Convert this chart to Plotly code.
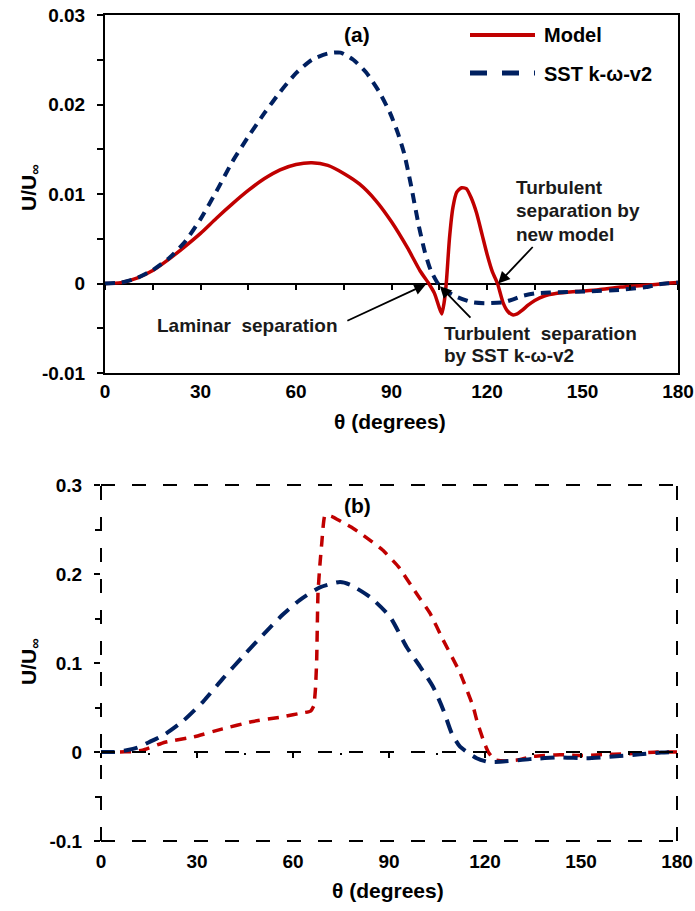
import plotly.graph_objects as go

# ---------------- data ----------------
# (a) friction-velocity ratio, Model (solid) and SST k-omega-v2 (dashed)
theta_a_model = [0, 5, 10, 15, 20, 25, 30, 35, 40, 45, 50, 55, 60, 65, 70, 75, 80, 85, 90, 95,
                 99, 101.7, 103.5, 105, 105.8, 106.5, 107.2, 108.2, 109.3, 110.5, 112, 113.5, 115,
                 116.7, 118.5, 120, 121.7, 123.3, 125, 126.5, 128, 129.5, 131, 133, 135, 138, 142,
                 148, 155, 162, 170, 176, 180]
u_a_model = [0, 0.0001, 0.0006, 0.00145, 0.0027, 0.0041, 0.0056, 0.0073, 0.0089, 0.0104, 0.0117,
             0.0127, 0.0133, 0.0135, 0.0132, 0.0123, 0.0111, 0.0093, 0.0069, 0.0040,
             0.0014, 0.0, -0.0011, -0.0027, -0.0034, -0.0022, 0.0, 0.0050, 0.0085, 0.0102, 0.0107,
             0.0106, 0.0096, 0.0079, 0.0054, 0.0033, 0.0013, 0.0, -0.0021, -0.0031, -0.0035,
             -0.0034, -0.0030, -0.0024, -0.0019, -0.0014, -0.0011, -0.0009, -0.0007, -0.0004,
             -0.0002, 0.0, 0.0001]

theta_a_sst = [0, 5, 10, 15, 20, 25, 30, 35, 40, 45, 50, 55, 60, 65, 70, 74, 78, 82, 86, 89.5,
               92, 94, 96, 98.6, 100.5, 102.3, 104.6, 107, 110.6, 115.5, 120, 125, 128, 131, 135,
               140, 151, 162, 170, 174, 180]
u_a_sst = [0, 0.0001, 0.0006, 0.0015, 0.0028, 0.0046, 0.0072, 0.0103, 0.0136, 0.0164, 0.0190,
           0.0214, 0.0235, 0.0250, 0.0257, 0.0258, 0.0250, 0.0236, 0.0215, 0.0191,
           0.0168, 0.0145, 0.0112, 0.0064, 0.0035, 0.0015, 0.0, -0.0008, -0.0015, -0.0021,
           -0.0022, -0.0021, -0.0018, -0.0014, -0.0011, -0.0010, -0.0009, -0.0007, -0.0004,
           -0.0001, 0.0001]

# (b) velocity ratio, Model and SST k-omega-v2 (both dashed)
theta_b_model = [0, 5, 10, 13, 20, 29, 38, 47, 57, 63, 65.5, 66.5, 67, 67.4, 67.8, 68.4, 69,
                 70, 72.5, 75, 78, 81, 84, 88, 93, 98.6, 102.8, 106.9, 112.2, 116.3, 117.4, 119.5,
                 121, 123.1, 126.4, 130, 135, 143.4, 150, 156, 164.4, 173.8, 180]
u_b_model = [0, 0, 0.0005, 0.002, 0.011, 0.017, 0.026, 0.034, 0.0397, 0.044, 0.046, 0.052, 0.07,
             0.103, 0.178, 0.21, 0.235, 0.266, 0.264, 0.259, 0.253, 0.246, 0.238, 0.227, 0.208,
             0.178, 0.156, 0.126, 0.089, 0.051, 0.036, 0.013, 0.0, -0.009, -0.010, -0.009,
             -0.005, -0.003, -0.004, -0.003, -0.002, 0.0, 0.0]

theta_b_sst = [0, 4, 8, 11.4, 15, 20, 25.7, 32, 38.2, 44.5, 50.7, 57, 62.2, 68.4, 74.7, 77.8,
               84.1, 90.3, 95.5, 99.7, 103.8, 107, 109.6, 112.2, 117.4, 120.8, 124.7, 134, 143.4,
               151.8, 160, 168.4, 175, 180]
u_b_sst = [0, 0, 0.002, 0.005, 0.011, 0.020, 0.035, 0.057, 0.083, 0.108, 0.132, 0.155, 0.171,
           0.185, 0.191, 0.188, 0.174, 0.152, 0.118, 0.096, 0.073, 0.047, 0.021, 0.006, -0.007,
           -0.011, -0.011, -0.008, -0.006, -0.007, -0.005, -0.0026, -0.0005, 0]

# axis ticks
x_ticks = [0, 30, 60, 90, 120, 150, 180]
x_ticktext = ["0", "30", "60", "90", "120", "150", "180"]
ya_ticks = [-0.01, 0, 0.01, 0.02, 0.03]
ya_ticktext = ["-0.01", "0", "0.01", "0.02", "0.03"]
yb_ticks = [-0.1, 0, 0.1, 0.2, 0.3]
yb_ticktext = ["-0.1", "0", "0.1", "0.2", "0.3"]

# ---------------- styling ----------------
RED = "#C00000"
NAVY = "#002060"
FONT = "Liberation Sans, Arial, sans-serif"
W, H = 695, 911

def px(x):
    return x / W

def py(y):
    return 1 - y / H

dom_xa = [px(105), px(678)]
dom_ya = [py(373), py(15)]
dom_xb = [px(101), px(677)]
dom_yb = [py(841), py(485)]

fig = go.Figure()

fig.add_trace(go.Scatter(x=theta_a_model, y=u_a_model, mode="lines", xaxis="x", yaxis="y",
                         line=dict(color=RED, width=3.5, shape="spline", smoothing=0.6),
                         showlegend=False))
fig.add_trace(go.Scatter(x=theta_a_sst, y=u_a_sst, mode="lines", xaxis="x", yaxis="y",
                         line=dict(color=NAVY, width=4, dash="10px,7px", shape="spline",
                                   smoothing=0.6),
                         showlegend=False))
fig.add_trace(go.Scatter(x=theta_b_model, y=u_b_model, mode="lines", xaxis="x2", yaxis="y2",
                         line=dict(color=RED, width=3.5, dash="11px,8px", shape="spline",
                                   smoothing=0.4),
                         showlegend=False))
fig.add_trace(go.Scatter(x=theta_b_sst, y=u_b_sst, mode="lines", xaxis="x2", yaxis="y2",
                         line=dict(color=NAVY, width=4, dash="14px,9px", shape="spline",
                                   smoothing=0.6),
                         showlegend=False))
# empty traces so the zero-line tick axes are drawn
fig.add_trace(go.Scatter(x=[], y=[], xaxis="x3", yaxis="y", showlegend=False))
fig.add_trace(go.Scatter(x=[], y=[], xaxis="x4", yaxis="y2", showlegend=False))

tickfont = dict(family=FONT, size=19, color="black", weight="bold")

fig.update_layout(
    width=W, height=H,
    margin=dict(l=0, r=0, t=0, b=0, autoexpand=False),
    paper_bgcolor="white", plot_bgcolor="white",
    showlegend=False,
    font=dict(family=FONT, color="black"),
    xaxis=dict(domain=dom_xa, anchor="y", range=[0, 180], tickvals=x_ticks, ticktext=x_ticktext,
               showline=True, linecolor="black", linewidth=2, mirror=True, ticks="",
               showgrid=False, zeroline=False, tickfont=tickfont, ticklabelstandoff=0,
               automargin=False),
    yaxis=dict(domain=dom_ya, anchor="x", range=[-0.01, 0.03], tickvals=ya_ticks,
               ticktext=ya_ticktext, showline=True, linecolor="black", linewidth=2, mirror=True,
               ticks="outside", ticklen=6, tickwidth=2, tickcolor="black",
               minor=dict(dtick=0.005, ticks="outside", ticklen=6, tickwidth=2,
                          tickcolor="black", showgrid=False),
               showgrid=False, zeroline=True, zerolinecolor="black", zerolinewidth=2,
               tickfont=tickfont, ticklabelstandoff=8, automargin=False),
    xaxis3=dict(overlaying="x", anchor="free",
                position=dom_ya[0] + 0.25 * (dom_ya[1] - dom_ya[0]),
                range=[0, 180], dtick=15, tick0=0, ticks="outside", ticklen=5, tickwidth=2,
                tickcolor="black", showticklabels=False, showline=False, showgrid=False,
                zeroline=False, automargin=False),
    xaxis2=dict(domain=dom_xb, anchor="y2", range=[0, 180], tickvals=x_ticks,
                ticktext=x_ticktext, showline=False, ticks="", showgrid=False, zeroline=False,
                tickfont=tickfont, ticklabelstandoff=7, automargin=False),
    yaxis2=dict(domain=dom_yb, anchor="x2", range=[-0.1, 0.3], tickvals=yb_ticks,
                ticktext=yb_ticktext, showline=False, ticks="outside", ticklen=6, tickwidth=2,
                tickcolor="black",
                minor=dict(dtick=0.05, ticks="outside", ticklen=5, tickwidth=2,
                           tickcolor="black", showgrid=False),
                showgrid=False, zeroline=False, tickfont=tickfont, ticklabelstandoff=8,
                automargin=False),
    xaxis4=dict(overlaying="x2", anchor="free",
                position=dom_yb[0] + 0.25 * (dom_yb[1] - dom_yb[0]),
                range=[0, 180], tickvals=x_ticks, ticks="outside", ticklen=5, tickwidth=2,
                tickcolor="black",
                minor=dict(dtick=15, ticks="outside", ticklen=2, tickwidth=2,
                           tickcolor="black", showgrid=False),
                showticklabels=False, showline=False, showgrid=False, zeroline=False,
                automargin=False),
)

# dashed frame and zero line of panel (b)
frame_dash = "14px,17px"
frame = dict(color="black", width=2, dash=frame_dash)
shapes = [
    dict(type="line", xref="x2 domain", yref="y2 domain", x0=0, x1=1, y0=1, y1=1, line=frame),
    dict(type="line", xref="x2 domain", yref="y2 domain", x0=0, x1=1, y0=0, y1=0, line=frame),
    dict(type="line", xref="x2 domain", yref="y2 domain", x0=0, x1=0, y0=0, y1=1, line=frame),
    dict(type="line", xref="x2 domain", yref="y2 domain", x0=1, x1=1, y0=0, y1=1, line=frame),
    dict(type="line", xref="x2 domain", yref="y2", x0=0, x1=1, y0=0, y1=0, line=frame),
    # legend samples of panel (a)
    dict(type="line", xref="paper", yref="paper", x0=px(470), x1=px(535), y0=py(35), y1=py(35),
         line=dict(color=RED, width=4)),
    dict(type="line", xref="paper", yref="paper", x0=px(470), x1=px(535), y0=py(73), y1=py(73),
         line=dict(color=NAVY, width=5, dash="17px,15px")),
]
fig.update_layout(shapes=shapes)

ann_font = dict(family=FONT, size=19, color="#1a1a1a", weight="bold")
title_font = dict(family=FONT, size=21, color="black", weight="bold")

def text(x, y, s, anchor="left", font=ann_font, angle=0):
    return dict(xref="paper", yref="paper", x=px(x), y=py(y), text=s, showarrow=False,
                xanchor=anchor, yanchor="middle", font=font, textangle=angle)

def arrow(xr, yr, x, y, ax, ay):
    return dict(xref=xr, yref=yr, x=x, y=y, ax=ax, ay=ay, text="", showarrow=True,
                arrowhead=2, arrowsize=1.3, arrowwidth=1.8, arrowcolor="black", standoff=0)

annotations = [
    text(357, 35, "(a)", "center", dict(family=FONT, size=21, color="black", weight="bold")),
    text(357, 505, "(b)", "center", dict(family=FONT, size=21, color="black", weight="bold")),
    text(542, 35, "Model", font=dict(family=FONT, size=20, color="black", weight="bold")),
    text(542, 74, "SST k-ω-v2", font=dict(family=FONT, size=20, color="black", weight="bold")),
    text(514, 187, "Turbulent"),
    text(514, 211, "separation by"),
    text(514, 235, "new model"),
    text(155, 325, "Laminar  separation"),
    text(442, 333, "Turbulent  separation"),
    text(442, 355, "by SST k-ω-v2"),
    text(390, 421, "θ (degrees)", "center", title_font),
    text(388, 890, "θ (degrees)", "center", title_font),
    text(30, 188, "U/U<sub>∞</sub>", "center", title_font, -90),
    text(30, 662, "U/U<sub>∞</sub>", "center", title_font, -90),
    arrow("x", "y", 123.5, 0.0, 36, -38),
    arrow("x", "y", 100.8, -0.0001, -80, 37),
    arrow("x", "y", 105.2, -0.0003, 32, 33),
]
fig.update_layout(annotations=annotations)

# keep the page exactly the size of the figure
page_css = ("document.documentElement.style.margin='0';document.body.style.margin='0';"
            "document.documentElement.style.overflow='hidden';"
            "document.body.style.overflow='hidden';")
fig.write_html("out.html", post_script=page_css)
